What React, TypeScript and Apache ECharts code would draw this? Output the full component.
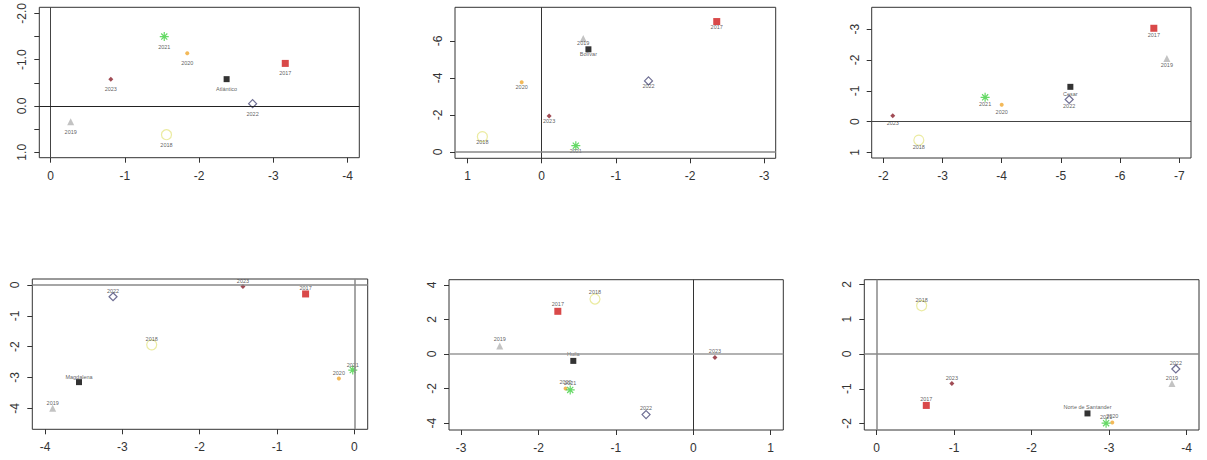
import React, { useEffect, useRef } from "react";
import * as echarts from "echarts";

// ---------- data ----------
const categories = ["2017", "2018", "2019", "2020", "2021", "2022", "2023"];
const departments = ["Atlántico", "Bolívar", "Cesar", "Magdalena", "Huila", "Norte de Santander"];

// order: 2017, 2018, 2019, 2020, 2021, 2022, 2023, department
const atlanticoX = [-3.16, -1.56, -0.27, -1.84, -1.53, -2.72, -0.81, -2.37];
const atlanticoY = [-0.92, 0.62, 0.34, -1.14, -1.5, -0.05, -0.58, -0.58];

const bolivarX = [-2.36, 0.8, -0.56, 0.27, -0.46, -1.44, -0.1, -0.63];
const bolivarY = [-7.05, -0.83, -6.14, -3.77, -0.34, -3.84, -1.95, -5.55];

const cesarX = [-6.57, -2.6, -6.79, -4.0, -3.72, -5.14, -2.16, -5.16];
const cesarY = [-3.03, 0.6, -2.05, -0.55, -0.79, -0.72, -0.19, -1.13];

const magdalenaX = [-0.63, -2.62, -3.9, -0.2, -0.02, -3.12, -1.44, -3.56];
const magdalenaY = [-0.29, -1.94, -4.0, -3.03, -2.76, -0.38, -0.05, -3.15];

const huilaX = [-1.75, -1.27, -2.5, -1.65, -1.59, -0.61, 0.28, -1.55];
const huilaY = [2.47, 3.18, 0.46, -2.0, -2.08, -3.51, -0.21, -0.4];

const norteX = [-0.64, -0.58, -3.81, -3.04, -2.96, -3.86, -0.97, -2.72];
const norteY = [-1.48, 1.39, -0.85, -1.97, -1.99, -0.43, -0.85, -1.71];

// tick values
const xTicks1 = [0, -1, -2, -3, -4];
const yTicks1 = [-2, -1.5, -1, -0.5, 0, 0.5, 1];
const yLabels1 = [-2, -1, 0, 1];
const xTicks2 = [1, 0, -1, -2, -3];
const yTicks2 = [-6, -4, -2, 0];
const xTicks3 = [-2, -3, -4, -5, -6, -7];
const yTicks3 = [-3, -2, -1, 0, 1];
const xTicks4 = [-4, -3, -2, -1, 0];
const yTicks4 = [0, -1, -2, -3, -4];
const xTicks5 = [-3, -2, -1, 0, 1];
const yTicks5 = [4, 2, 0, -2, -4];
const xTicks6 = [0, -1, -2, -3, -4];
const yTicks6 = [2, 1, 0, -1, -2];

// ---------- styling / layout ----------
const ASTERISK = "path://M5,0L5,10M0,5L10,5M1.6,1.6L8.4,8.4M8.4,1.6L1.6,8.4";

const markers = [
  { symbol: "rect", size: 7, color: "#d01c1c", open: false }, // 2017
  { symbol: "circle", size: 10, color: "#e6e68a", open: true }, // 2018
  { symbol: "triangle", size: 7, color: "#b4b4b4", open: false }, // 2019
  { symbol: "circle", size: 4, color: "#f0a830", open: false }, // 2020
  { symbol: ASTERISK, size: 9, color: "#3fcf3f", open: true }, // 2021
  { symbol: "diamond", size: 8, color: "#4a4a78", open: true }, // 2022
  { symbol: "diamond", size: 5, color: "#8a1f2a", open: false }, // 2023
  { symbol: "rect", size: 6, color: "#000000", open: false }, // department
];

type Panel = {
  name: string;
  xs: number[];
  ys: number[];
  box: [number, number, number, number]; // left, top, width, height
  xRange: [number, number];
  yRange: [number, number];
  xInverse: boolean;
  yInverse: boolean;
  xTicks: number[];
  xLabels: number[];
  yTicks: number[];
  yLabels: number[];
  yDecimals: number;
  labelDy: number;
  vLine: null | { color: string; width: number };
  hLine: null | { color: string; width: number };
};

const panels: Panel[] = [
  {
    name: departments[0], xs: atlanticoX, ys: atlanticoY,
    box: [39.3, 7.3, 320, 150.4], xRange: [-4.157, 0.153], yRange: [-2.132, 1.117],
    xInverse: true, yInverse: true,
    xTicks: xTicks1, xLabels: xTicks1, yTicks: yTicks1, yLabels: yLabels1, yDecimals: 1,
    labelDy: 10,
    vLine: { color: "#444", width: 1 }, hLine: { color: "#222", width: 1 },
  },
  {
    name: departments[1], xs: bolivarX, ys: bolivarY,
    box: [455, 7.3, 320.7, 151], xRange: [-3.155, 1.169], yRange: [-7.82, 0.34],
    xInverse: true, yInverse: true,
    xTicks: xTicks2, xLabels: xTicks2, yTicks: yTicks2, yLabels: yTicks2, yDecimals: 0,
    labelDy: 5,
    vLine: { color: "#333", width: 1 }, hLine: { color: "#888", width: 1.5 },
  },
  {
    name: departments[2], xs: cesarX, ys: cesarY,
    box: [871.7, 7.3, 319.3, 150.7], xRange: [-7.198, -1.804], yRange: [-3.71, 1.178],
    xInverse: true, yInverse: true,
    xTicks: xTicks3, xLabels: xTicks3, yTicks: yTicks3, yLabels: yTicks3, yDecimals: 0,
    labelDy: 7,
    vLine: null, hLine: { color: "#444", width: 1 },
  },
  {
    name: departments[3], xs: magdalenaX, ys: magdalenaY,
    box: [32.3, 279, 335.4, 150.3], xRange: [-4.164, 0.173], yRange: [-4.68, 0.195],
    xInverse: false, yInverse: false,
    xTicks: xTicks4, xLabels: xTicks4, yTicks: yTicks4, yLabels: yTicks4, yDecimals: 0,
    labelDy: -5.5,
    vLine: { color: "#888", width: 1.5 }, hLine: { color: "#888", width: 1.5 },
  },
  {
    name: departments[4], xs: huilaX, ys: huilaY,
    box: [449, 279.7, 334.3, 150.3], xRange: [-3.156, 1.163], yRange: [-4.4, 4.3],
    xInverse: false, yInverse: false,
    xTicks: xTicks5, xLabels: xTicks5, yTicks: yTicks5, yLabels: yTicks5, yDecimals: 0,
    labelDy: -7,
    vLine: { color: "#333", width: 1 }, hLine: { color: "#999", width: 1.5 },
  },
  {
    name: departments[5], xs: norteX, ys: norteY,
    box: [864.3, 279.7, 334.7, 150.3], xRange: [-4.159, 0.16], yRange: [-2.187, 2.139],
    xInverse: true, yInverse: false,
    xTicks: xTicks6, xLabels: xTicks6, yTicks: yTicks6, yLabels: yTicks6, yDecimals: 0,
    labelDy: -6,
    vLine: { color: "#888", width: 1.5 }, hLine: { color: "#888", width: 1.5 },
  },
];

const FONT = "'Liberation Sans', Arial, sans-serif";

function buildOption() {
  const grid: any[] = [];
  const xAxis: any[] = [];
  const yAxis: any[] = [];
  const series: any[] = [];

  panels.forEach((p, i) => {
    grid.push({
      left: p.box[0], top: p.box[1], width: p.box[2], height: p.box[3],
      show: true, borderColor: "#333", borderWidth: 1, backgroundColor: "transparent",
      containLabel: false,
    });
    xAxis.push({
      type: "value", gridIndex: i, min: p.xRange[0], max: p.xRange[1], inverse: p.xInverse,
      position: "bottom",
      axisLine: { show: false, onZero: false },
      splitLine: { show: false },
      axisTick: { show: true, inside: false, length: 5, customValues: p.xTicks, lineStyle: { color: "#333" } },
      axisLabel: {
        show: true, customValues: p.xLabels, margin: 12, color: "#333", fontSize: 12, fontFamily: FONT,
        formatter: (v: number) => String(Math.round(v * 100) / 100),
      },
    });
    yAxis.push({
      type: "value", gridIndex: i, min: p.yRange[0], max: p.yRange[1], inverse: p.yInverse,
      position: "left",
      axisLine: { show: false, onZero: false },
      splitLine: { show: false },
      axisTick: { show: true, inside: false, length: 5, customValues: p.yTicks, lineStyle: { color: "#333" } },
      axisLabel: {
        show: true, customValues: p.yLabels, margin: 11, rotate: 90, color: "#333", fontSize: 12, fontFamily: FONT,
        formatter: (v: number) => v.toFixed(p.yDecimals),
      },
    });

    const names = [...categories, p.name];
    const data = p.xs.map((x, k) => {
      const m = markers[k];
      return {
        name: names[k],
        value: [x, p.ys[k]],
        symbol: m.symbol,
        symbolSize: m.size,
        itemStyle: m.open
          ? { color: "rgba(0,0,0,0)", borderColor: m.color, borderWidth: 1.2 }
          : { color: m.color, borderWidth: 0 },
        label: {
          show: true, formatter: names[k], position: "inside", offset: [0, p.labelDy],
          fontSize: 5.5, color: "#333", fontFamily: FONT,
        },
      };
    });

    const markData: any[] = [];
    if (p.vLine) markData.push({ xAxis: 0, lineStyle: { color: p.vLine.color, width: p.vLine.width, type: "solid" } });
    if (p.hLine) markData.push({ yAxis: 0, lineStyle: { color: p.hLine.color, width: p.hLine.width, type: "solid" } });

    series.push({
      type: "scatter", xAxisIndex: i, yAxisIndex: i, data,
      markLine: { silent: true, symbol: "none", label: { show: false }, animation: false, data: markData },
    });
  });

  return { animation: false, backgroundColor: "#ffffff", grid, xAxis, yAxis, series };
}

export default function App() {
  const ref = useRef<HTMLDivElement>(null);
  useEffect(() => {
    if (!ref.current) return;
    const chart = echarts.init(ref.current, undefined, { renderer: "svg" });
    chart.setOption(buildOption() as any);
    return () => chart.dispose();
  }, []);
  return (
    <div
      ref={ref}
      style={{ position: "absolute", left: 0, top: 0, width: 1207, height: 460, background: "#fff" }}
    />
  );
}
